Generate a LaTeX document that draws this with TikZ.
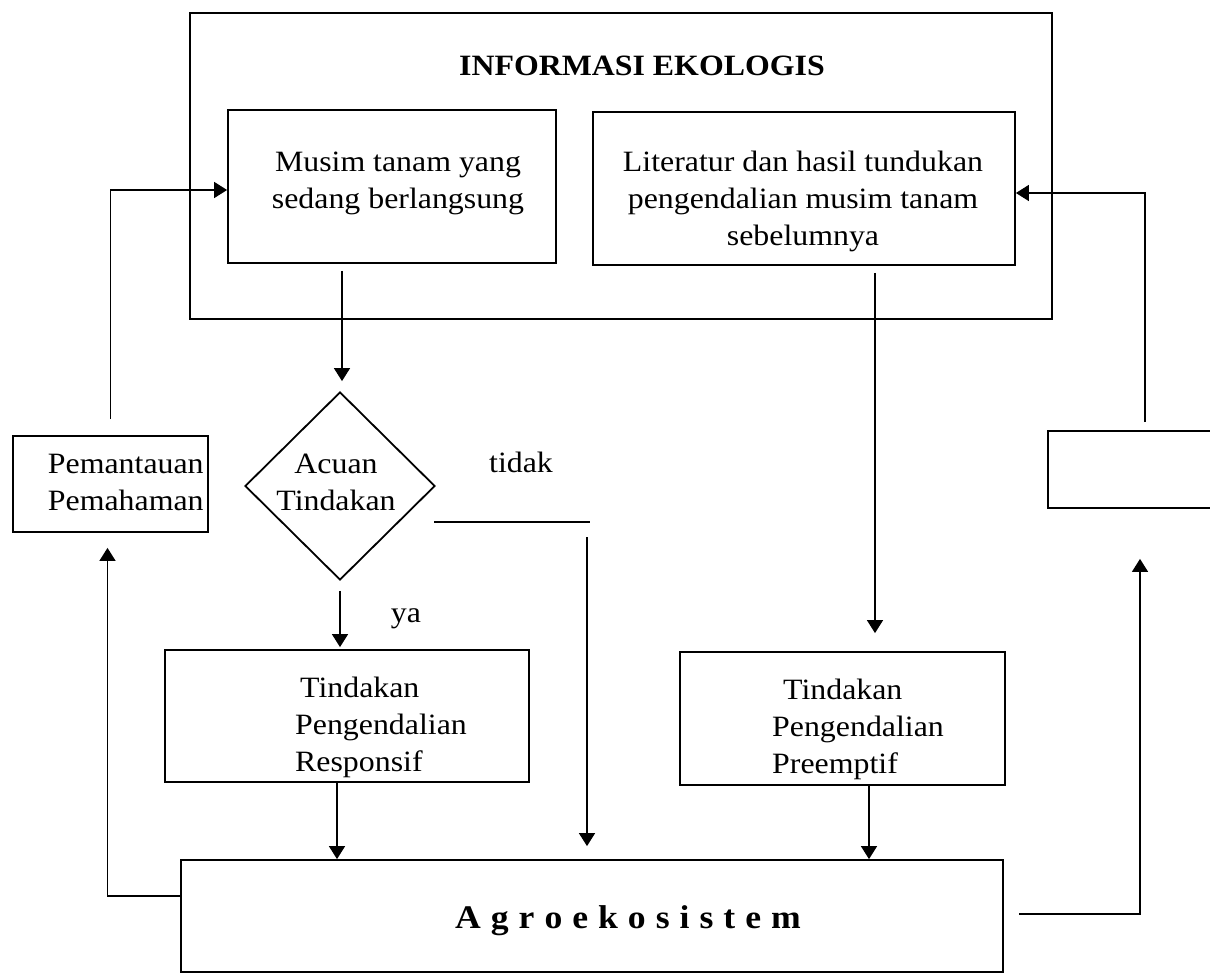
\documentclass[tikz,border=0pt]{standalone}
\usepackage{fontspec}
\setmainfont{Liberation Serif}[FakeStretch=1.08]
\usetikzlibrary{shapes.geometric,arrows.meta,calc}
\begin{document}
\begin{tikzpicture}[x=1pt,y=-1pt,
  box/.style={draw, rectangle, line width=1.8pt, inner sep=0pt},
  conn/.style={draw, line width=1.4pt},
  arr/.style={-{Triangle[length=13pt,width=16pt]}},
  txt/.style={inner sep=0pt, font=\fontsize{29.5}{37}\selectfont},
  ttl/.style={inner sep=0pt, font=\fontsize{29.5}{37}\selectfont\bfseries},
  big/.style={inner sep=0pt, font=\fontsize{33}{40}\selectfont\bfseries}]
\useasboundingbox (0,0) rectangle (1210,973);
\fill[white] (0,0) rectangle (1210,973);

% boxes
\node[box, minimum width=862pt, minimum height=306pt] (info) at (621,166) {};
\node[box, minimum width=328pt, minimum height=153pt] (musim) at (392,186.5) {};
\node[box, minimum width=422pt, minimum height=153pt] (lit) at (804,188.5) {};
\node[box, minimum width=195pt, minimum height=96pt] (pem) at (110.5,484) {};
\node[draw, diamond, line width=1.8pt, inner sep=0pt, minimum width=190pt, minimum height=188pt] (dia) at (340,486) {};
\node[box, minimum width=364pt, minimum height=132pt] (resp) at (347,716) {};
\node[box, minimum width=325pt, minimum height=133pt] (pre) at (842.5,718.5) {};
\node[box, minimum width=822pt, minimum height=112pt] (agro) at (592,916) {};
\node[box, minimum width=192pt, minimum height=77pt] (rb) at (1144,469.5) {};

% texts
\node[ttl, anchor=base] (title) at (642,76) {INFORMASI EKOLOGIS};
\node[txt, align=center] (musimT) at (398,183) {Musim tanam yang\\sedang berlangsung};
\node[txt, align=center] (litT) at (803,201) {Literatur dan hasil tundukan\\pengendalian musim tanam\\sebelumnya};
\node[txt, align=left] (pemT) at (125.8,482) {Pemantauan\\Pemahaman};
\node[txt, align=center] (diaT) at (336,482) {Acuan\\Tindakan};
\node[txt, anchor=base] (tidakT) at (521,472) {tidak};
\node[txt, anchor=base] (yaT) at (406,622) {ya};
\node[txt, align=left, anchor=west] (respT) at (295,727) {\hspace*{5pt}Tindakan\\Pengendalian\\Responsif};
\node[txt, align=left, anchor=west] (preT) at (772,729) {\hspace*{11pt}Tindakan\\Pengendalian\\Preemptif};
\node[big, anchor=base] (agroT) at (628,928) {A\hspace{10pt}g\hspace{10pt}r\hspace{10pt}o\hspace{10pt}e\hspace{10pt}k\hspace{10pt}o\hspace{10pt}s\hspace{10pt}i\hspace{10pt}s\hspace{10pt}t\hspace{10pt}e\hspace{10pt}m};

% helper coordinates
\coordinate (yL) at (0,190);
\coordinate (yR) at (0,193);
\coordinate (yA) at (0,896);
\coordinate (yB) at (0,914);
\coordinate (x337) at (337,0);
\coordinate (x342) at (342,0);
\coordinate (x875) at (875,0);
\coordinate (x869) at (869,0);
\coordinate (t1) at (434,522);
\coordinate (t2) at (590,522);
\coordinate (t3) at (587,537);
\coordinate (agroR) at (1019,0);

% connectors
\draw[conn, arr] ($(musim.south -| x342)+(0,7)$) -- ($(dia.north -| x342)+(0,-10)$);
\draw[conn, arr] ($(dia.south)+(0,10)$) -- ($(resp.north -| dia.south)+(0,-2)$);
\draw[conn, arr] (resp.south -| x337) -- (agro.north -| x337);
\draw[conn] (t1) -- (t2);
\draw[conn, arr] (t3) -- ($(agro.north -| t3)+(0,-13)$);
\draw[conn, arr] ($(lit.south -| x875)+(0,7)$) -- ($(pre.north -| x875)+(0,-18)$);
\draw[conn, arr] (pre.south -| x869) -- (agro.north -| x869);
% feedback left
\draw[conn, arr] ($(pem.north)+(0,-16)$) |- (musim.west |- yL);
\draw[conn, arr] (agro.west |- yA) -| ($(pem.south)+(-3,15)$);
% feedback right
\draw[conn, arr] ($(rb.north)+(1,-8)$) |- (lit.east |- yR);
\draw[conn, arr] (agroR |- yB) -| ($(rb.south)+(-4,50)$);
\end{tikzpicture}
\end{document}
